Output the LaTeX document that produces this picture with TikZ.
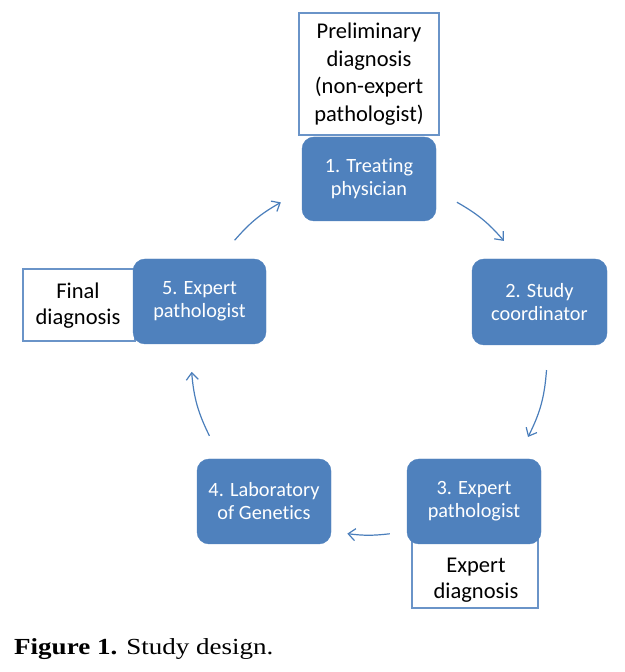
\documentclass[tikz,border=0pt]{standalone}
\usepackage{fontspec}
\setmainfont[Ligatures=NoCommon]{Carlito}
\newfontfamily\capfont{Liberation Serif}
\usetikzlibrary{arrows.meta,calc}
\definecolor{boxblue}{HTML}{4F81BD}
\definecolor{arrowblue}{HTML}{4A7EBB}
\definecolor{edgeblue}{HTML}{6A94C8}
\tikzset{
  stepbox/.style={rectangle, rounded corners=12pt, fill=boxblue, draw=boxblue,
    text=white, align=center, font=\fontsize{20.3}{23}\selectfont, inner sep=0pt},
  notebox/.style={rectangle, fill=white, draw=edgeblue, line width=1.1pt,
    text=black, align=center, font=\fontsize{22.5}{27.6}\selectfont, inner sep=0pt},
  notetext/.style={align=center, inner sep=0pt, font=\fontsize{22.5}{26}\selectfont},
  flow/.style={draw=arrowblue, line width=1.2pt, -{Straight Barb[length=7pt,width=12pt,line width=1.2pt]}}
}
\begin{document}
\begin{tikzpicture}[x=1pt,y=1pt]
\useasboundingbox (0,0) rectangle (624,672);
% note boxes (behind)
\node[notebox, minimum width=140, minimum height=122] (prelim) at (369,598)
  {Preliminary\\diagnosis\\(non-expert\\pathologist)};
\node[notebox, minimum width=112, minimum height=72] (final) at (79,367) {};
\node[notetext] (finaltxt) at (78,366) {Final\\diagnosis};
\node[notebox, minimum width=126, minimum height=76] (expdiag) at (475,102) {};
\node[notetext] (exptxt) at (476,92) {Expert\\diagnosis};
% step boxes
\node[stepbox, minimum width=134, minimum height=84] (s1) at (369,493) {1. Treating\\physician};
\node[stepbox, minimum width=135, minimum height=86] (s2) at (539.5,370) {2. Study\\coordinator};
\node[stepbox, minimum width=134, minimum height=85] (s3) at (474,170.5) {3. Expert\\pathologist};
\node[stepbox, minimum width=134, minimum height=85] (s4) at (264,170.5) {4. Laboratory\\of Genetics};
\node[stepbox, minimum width=133, minimum height=85] (s5) at (199.5,370.5) {5. Expert\\pathologist};
% arrow end points on the cycle circle
\coordinate (c) at (369,315);
\coordinate (a1) at ($(c)+(60.4:178)$);
\coordinate (b1) at ($(c)+(40.7:178)$);
\coordinate (a2) at ($(c)+(-4.2:178)$);
\coordinate (b2) at ($(c)+(-26.7:178)$);
\coordinate (a3) at ($(c)+(-83.3:178)$);
\coordinate (b3) at ($(c)+(-97:178)$);
\coordinate (a4) at ($(c)+(-153.7:178)$);
\coordinate (b4) at ($(c)+(-175.2:178)$);
\coordinate (a5) at ($(c)+(139:178)$);
\coordinate (b5) at ($(c)+(119.7:178)$);
\draw[flow] (a1) to[bend left=9.85] (b1);
\draw[flow] (a2) to[bend left=11.25] (b2);
\draw[flow] (a3) to[bend left=6.85] (b3);
\draw[flow] (a4) to[bend left=10.75] (b4);
\draw[flow] (a5) to[bend left=9.65] (b5);
% caption
\node[anchor=base west, inner sep=0pt] (cap) at (14,17)
  {\scalebox{1.175}[1]{\capfont\fontsize{23}{27}\selectfont\textbf{Figure 1.} Study design.}};
\end{tikzpicture}
\end{document}
